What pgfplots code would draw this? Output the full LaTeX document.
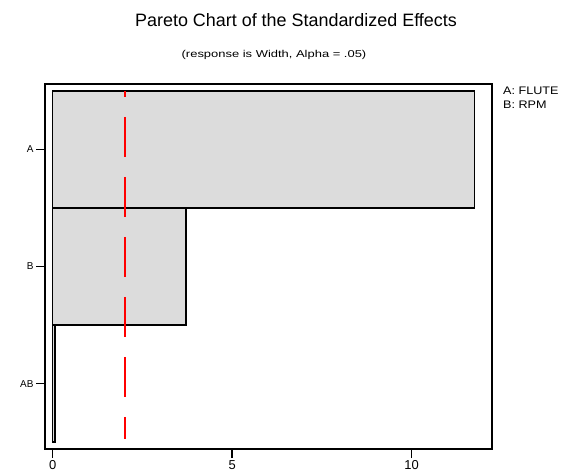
\documentclass[border=0pt]{standalone}
\usepackage{pgfplots}
\pgfplotsset{compat=1.18}
\usepackage{fontspec}
\setmainfont{Liberation Sans}
\definecolor{barfill}{HTML}{DCDCDC}
\definecolor{critred}{HTML}{FF0000}
\begin{document}
\begin{tikzpicture}
\useasboundingbox (0,0) rectangle (575bp,476bp);
\begin{axis}[
  at={(45bp,27bp)}, anchor=south west,
  scale only axis, width=447bp, height=365bp,
  xmin=-0.215, xmax=12.24,
  ymin=-0.558, ymax=2.558,
  xtick={0,5,10}, ytick={0,1,2}, yticklabels={AB,B,A},
  xtick pos=left, ytick pos=left,
  tick align=outside, major tick length=9bp,
  tick style={black, line width=1.5bp},
  axis line style={line width=2bp},
  /pgf/number format/assume math mode=true,
  xticklabel style={font=\fontsize{13}{14}\selectfont, yshift=1bp},
  yticklabel style={font=\fontsize{10}{11}\selectfont, xshift=1bp},
  clip=false,
]
\addplot[xbar, bar width=1, fill=barfill, draw=black, line width=1.5bp] coordinates {(11.75,2) (3.72,1) (0.07,0)};
\addplot[draw=critred, color=critred, line width=1.6bp, dash pattern=on 40bp off 20bp, dash phase=34bp, mark=none] coordinates {(2.02,2.5) (2.02,-0.47)};
\end{axis}
\node[anchor=center] at (296bp,456bp) {\fontsize{18}{20}\selectfont Pareto Chart of the Standardized Effects};
\node[anchor=center] at (274bp,421bp) {\scalebox{1.3}[1]{\fontsize{10}{12}\selectfont (response is Width, Alpha = .05)}};
\node[anchor=west, inner sep=0pt] at (503bp,385.5bp) {\scalebox{1.15}[1]{\fontsize{11}{12}\selectfont A: FLUTE}};
\node[anchor=west, inner sep=0pt] at (503bp,371bp) {\scalebox{1.15}[1]{\fontsize{11}{12}\selectfont B: RPM}};
\end{tikzpicture}
\end{document}
